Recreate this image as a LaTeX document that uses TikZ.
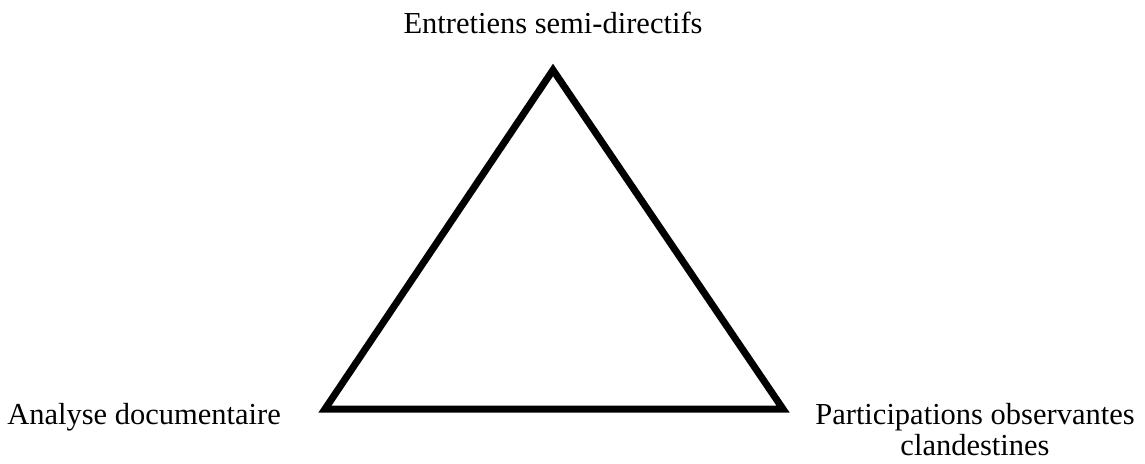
\documentclass[tikz,border=0pt]{standalone}
\usepackage{fontspec}
\setmainfont{Liberation Serif}
\begin{document}
\begin{tikzpicture}[x=1pt,y=-1pt,
  lbl/.style={font=\fontsize{30.5}{37}\selectfont, inner sep=0pt},
  tri/.style={line width=7pt, line join=miter}]
\useasboundingbox (0,0) rectangle (1145,463);
\coordinate (T) at (553,70);
\coordinate (L) at (325,409);
\coordinate (R) at (783,409);
\draw[tri] (T) -- (L) -- (R) -- cycle;
\node[lbl, anchor=base] (top) at (553,33) {Entretiens semi-directifs};
\node[lbl, anchor=base east] (left) at (281,424) {Analyse documentaire};
\node[lbl, anchor=base] (right) at (975,424) {Participations observantes};
\node[lbl, anchor=base] (right2) at (975,455) {clandestines};
\end{tikzpicture}
\end{document}
